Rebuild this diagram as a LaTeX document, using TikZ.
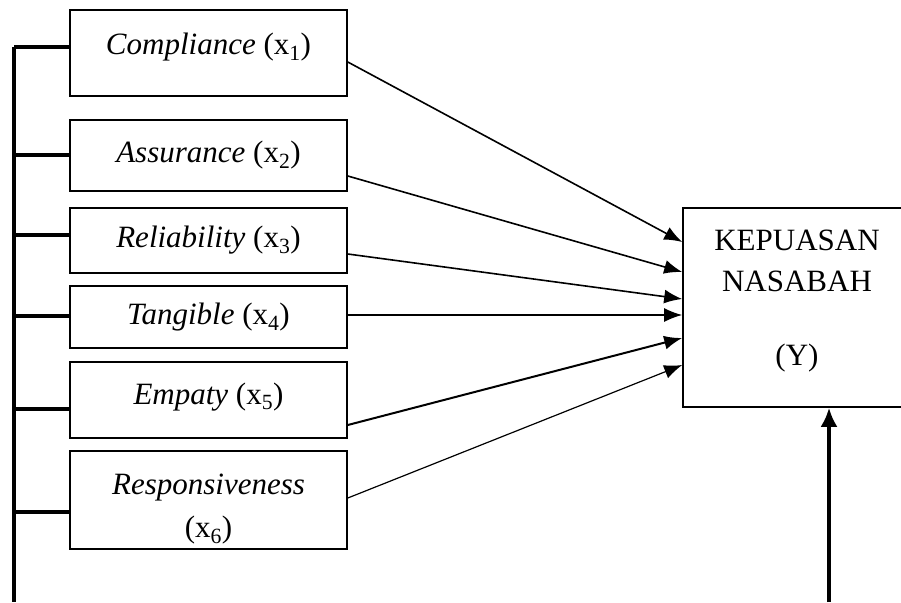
\documentclass[tikz,border=0pt]{standalone}
\usepackage{fontspec}
\setmainfont{Liberation Serif}
\usepackage{tikz}
\usetikzlibrary{arrows.meta,positioning,calc}
\tikzstyle{var box}=[draw, line width=1.6pt, inner sep=0pt, minimum width=277pt, align=center]
\tikzstyle{result box}=[draw, line width=1.6pt, inner sep=0pt, minimum width=228pt, minimum height=199pt, align=center]
\tikzstyle{bus}=[line width=3.4pt]
\tikzstyle{effect}=[line width=1.6pt, -{Latex[length=18pt,width=14pt]}]
\tikzstyle{feed}=[line width=3.4pt, -{Latex[length=19pt,width=17pt]}]

\begin{document}
\begin{tikzpicture}[x=1pt,y=-1pt,font=\fontsize{31}{38}\selectfont]
    \useasboundingbox (0,0) rectangle (901,602);
    \clip (0,0) rectangle (901,602);

    % Variables
    \draw (208.5,53) node[var box, text height=45pt, text depth=41pt] (x1) {\textit{Compliance} (x\textsubscript{1})};
    \draw (208.5,155.5) node[var box, minimum height=71pt] (x2) {\textit{Assurance} (x\textsubscript{2})};
    \draw (208.5,240.5) node[var box, minimum height=65pt] (x3) {\textit{Reliability} (x\textsubscript{3})};
    \draw (208.5,317) node[var box, minimum height=62pt] (x4) {\textit{Tangible} (x\textsubscript{4})};
    \draw (208.5,400) node[var box, text height=42pt, text depth=34pt] (x5) {\textit{Empaty} (x\textsubscript{5})};
    \draw (208.5,500) node[var box, minimum height=98pt] (x6) {\rule{0pt}{38pt}\textit{Responsiveness}\\[5pt](x\textsubscript{6})};

    % Satisfaction
    \draw (797,307.5) node[result box] (y) {KEPUASAN\\[3pt]NASABAH\\[36pt](Y)\rule[-19pt]{0pt}{19pt}};

    % Left bus
    \coordinate (b1) at (14,47);
    \coordinate (b2) at (14,155);
    \coordinate (b3) at (14,235);
    \coordinate (b4) at (14,316);
    \coordinate (b5) at (14,409);
    \coordinate (b6) at (14,512);
    \coordinate (bend) at (14,602);
    \draw[bus] (b1) -- (bend);
    \draw[bus] (b1) -- (b1 -| x1.west);
    \draw[bus] (b2) -- (b2 -| x2.west);
    \draw[bus] (b3) -- (b3 -| x3.west);
    \draw[bus] (b4) -- (b4 -| x4.west);
    \draw[bus] (b5) -- (b5 -| x5.west);
    \draw[bus] (b6) -- (b6 -| x6.west);

    % Effects
    \draw[effect] (x1.east |- 0,62) -- (y.west |- 0,242);
    \draw[effect] (x2.east |- 0,176) -- (y.west |- 0,272);
    \draw[effect] (x3.east |- 0,254) -- (y.west |- 0,299);
    \draw[effect] (x4.east |- 0,315) -- (y.west |- 0,315);
    \draw[effect, line width=2pt] (x5.east |- 0,425) -- (y.west |- 0,338);
    \draw[effect, line width=1.2pt] (x6.east |- 0,498) -- (y.west |- 0,365);

    % From below
    \coordinate (ybot) at (829,602);
    \draw[feed] (ybot) -- (ybot |- y.south);

\end{tikzpicture}
\end{document}
